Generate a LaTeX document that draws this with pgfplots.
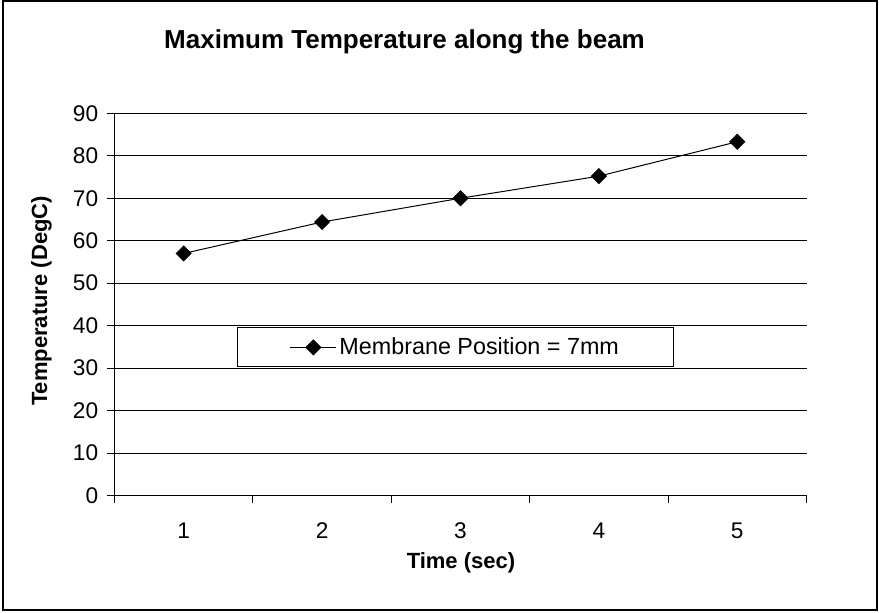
\documentclass[border=0pt]{standalone}
\usepackage{fontspec}
\setmainfont{Liberation Sans}
\usepackage{pgfplots}
\pgfplotsset{compat=1.18}
\begin{document}
\begin{tikzpicture}
\useasboundingbox (0,0) rectangle (659.25pt,459pt);
\draw[line width=1.1pt] (2.4pt,1.5pt) rectangle (657.9pt,458.1pt);
\node[anchor=base, font=\fontsize{19.5}{23}\selectfont\bfseries] at (303.4pt,422.8pt) {Maximum Temperature along the beam};
\begin{axis}[
  at={(85.875pt,87.375pt)}, anchor=south west,
  width=519pt, height=286.65pt, scale only axis,
  xmin=0.5, xmax=5.5, ymin=0, ymax=90,
  xtick={1,2,3,4,5},
  minor xtick={0.5,1.5,2.5,3.5,4.5,5.5},
  ytick={0,10,...,90},
  axis x line*=bottom, axis y line*=left,
  tick align=outside,
  major tick length=5.25pt, minor tick length=5.25pt,
  major x tick style={draw=none},
  tick style={black, line width=0.75pt},
  axis line style={black, line width=0.75pt},
  ymajorgrids, grid style={black, line width=0.75pt},
  /pgf/number format/assume math mode=true,
  ticklabel style={font=\fontsize{17}{20}\selectfont},
  xticklabel style={anchor=base, yshift=-27.25pt},
  yticklabel style={anchor=east, xshift=-3.5pt},
  xlabel={Time (sec)},
  ylabel={Temperature (DegC)},
  label style={font=\fontsize{16.5}{20}\selectfont\bfseries},
  xlabel style={at={(axis description cs:0.5007,0)}, anchor=base, yshift=-54.4pt},
  ylabel style={at={([xshift=-54.75pt]axis description cs:0,0.509)}, anchor=center},
  legend style={at={(0.1775,0.3354)}, anchor=south west, draw=black, fill=white,
    line width=0.75pt, inner xsep=39pt, inner ysep=5.5pt,
    font=\fontsize{17.5}{21}\selectfont},
  legend image code/.code={\draw[mark repeat=2,mark phase=2,#1] plot coordinates {(0pt,0pt)(17.25pt,0pt)(34.5pt,0pt)};},
]
\addplot[black, line width=0.75pt, mark=square*, mark size=3.9pt, mark options={rotate=45, fill=black}]
  coordinates {(1,57.0) (2,64.4) (3,70.0) (4,75.2) (5,83.3)};
\addlegendentry{Membrane Position = 7mm}
\end{axis}
\end{tikzpicture}
\end{document}
